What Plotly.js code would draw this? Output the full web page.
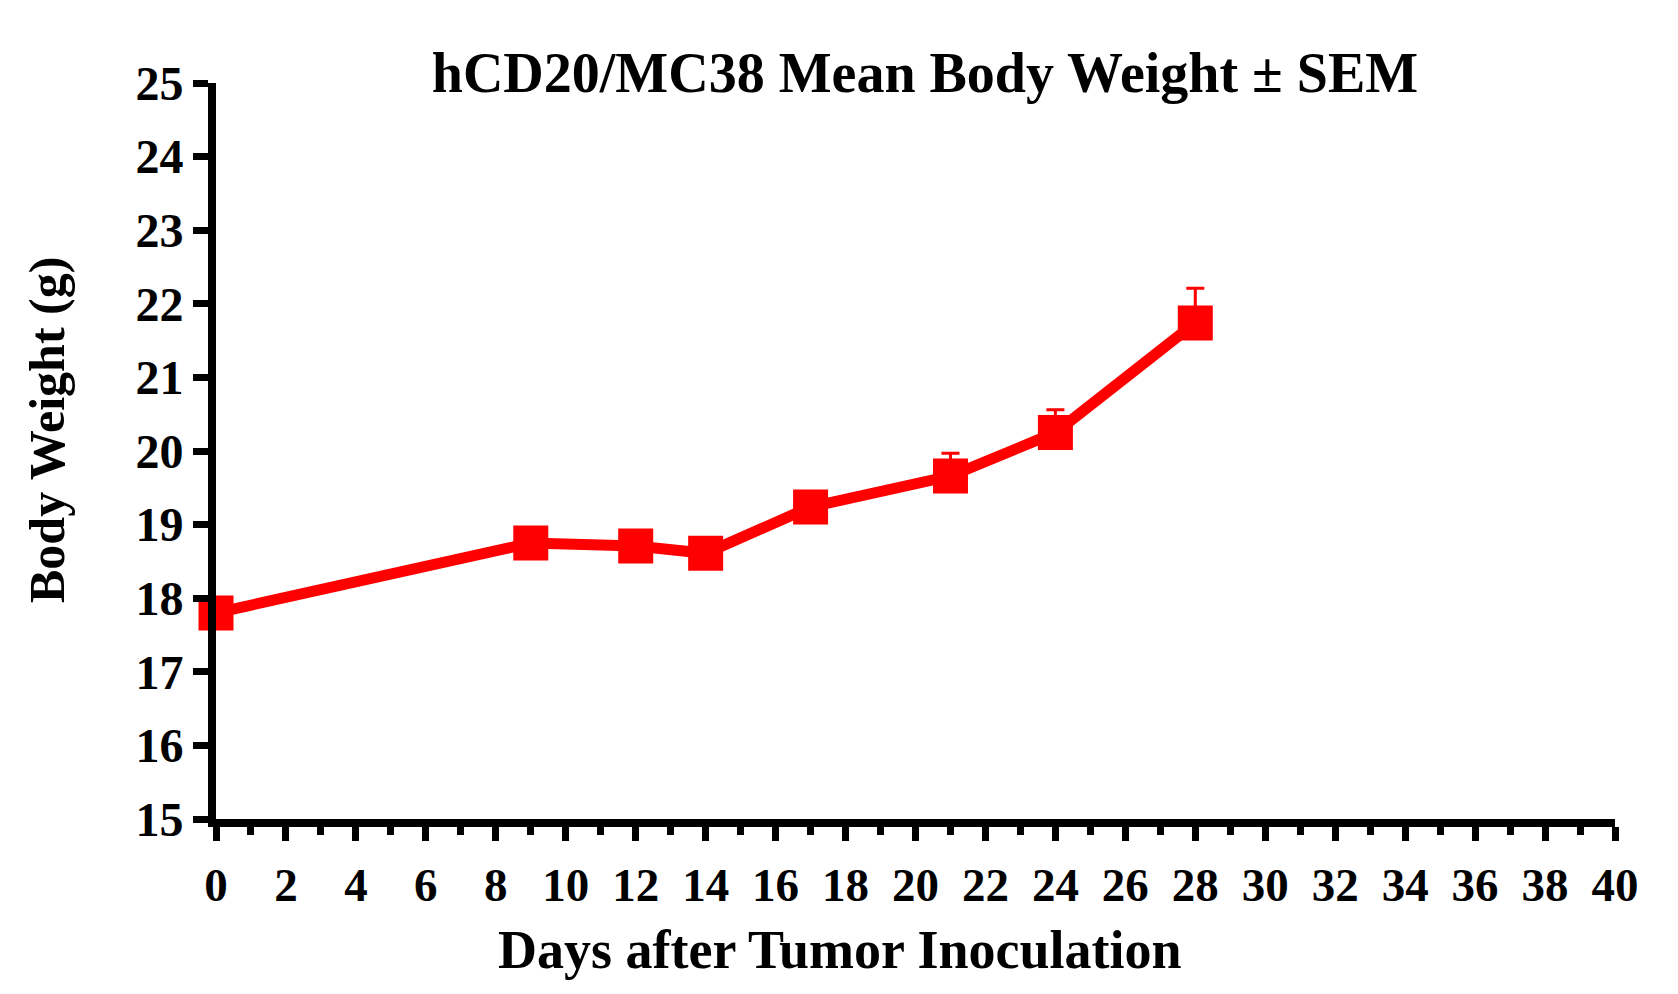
<!DOCTYPE html>
<html>
<head>
<meta charset="utf-8">
<script src="https://cdn.plot.ly/plotly-3.0.1.min.js"></script>
<style>
  html, body { margin: 0; padding: 0; background: #fff; }
  #chart { width: 1678px; height: 994px; }
</style>
</head>
<body>
<div id="chart"></div>
<script>
// mean body weight (g) by day after inoculation, upper SEM bar only
const days = [0, 9, 12, 14, 17, 21, 24, 28]
const weight = [17.8, 18.75, 18.71, 18.61, 19.24, 19.66, 20.25, 21.74]
const sem = [0.12, 0.15, 0.15, 0.15, 0.2, 0.31, 0.31, 0.47]

const xTicks = [0, 2, 4, 6, 8, 10, 12, 14, 16, 18, 20, 22, 24, 26, 28, 30, 32, 34, 36, 38, 40]
const yTicks = [15, 16, 17, 18, 19, 20, 21, 22, 23, 24, 25]

const font = 'Liberation Serif, Times New Roman, serif'
const red = '#ff0000'

const trace = {
  x: days,
  y: weight,
  type: 'scatter',
  mode: 'lines+markers',
  line: { color: red, width: 11 },
  marker: { symbol: 'square', size: 35, color: red },
  error_y: {
    type: 'data',
    symmetric: false,
    array: sem,
    arrayminus: sem.map(() => 0),
    color: red,
    thickness: 3,
    width: 9,
  },
  cliponaxis: false,
  hoverinfo: 'x+y',
}

const layout = {
  width: 1678,
  height: 994,
  paper_bgcolor: '#fff',
  plot_bgcolor: '#fff',
  showlegend: false,
  margin: { l: 216, r: 63, t: 83, b: 175 },
  font: { family: font, color: '#000' },
  title: {
    text: '<b>hCD20/MC38 Mean Body Weight ± SEM</b>',
    font: { family: font, size: 56, color: '#000' },
    xref: 'container',
    x: 925 / 1678,
    xanchor: 'center',
    yref: 'container',
    y: 1 - 72 / 994,
    yanchor: 'middle',
  },
  xaxis: {
    range: [0, 40],
    tickvals: xTicks,
    ticktext: xTicks.map(v => `<b>${v}</b>`),
    tickfont: { family: font, size: 47, color: '#000' },
    ticks: 'outside',
    ticklen: 14,
    tickwidth: 7,
    tickcolor: '#000',
    ticklabelstandoff: 4,
    minor: { dtick: 1, tick0: 1, ticks: 'outside', ticklen: 8, tickwidth: 7, tickcolor: '#000' },
    showline: true,
    linecolor: '#000',
    linewidth: 8,
    showgrid: false,
    zeroline: false,
    fixedrange: true,
  },
  yaxis: {
    range: [15, 25],
    tickvals: yTicks,
    ticktext: yTicks.map(v => `<b>${v}</b>`),
    tickfont: { family: font, size: 48, color: '#000' },
    ticks: 'outside',
    ticklen: 15,
    tickwidth: 7,
    tickcolor: '#000',
    showline: true,
    linecolor: '#000',
    linewidth: 8,
    showgrid: false,
    zeroline: false,
    fixedrange: true,
  },
  annotations: [
    {
      text: '<b>Days after Tumor Inoculation</b>',
      xref: 'paper',
      yref: 'paper',
      x: (840 - 216) / 1399,
      y: -(950 - 819) / 736,
      xanchor: 'center',
      yanchor: 'middle',
      showarrow: false,
      font: { family: font, size: 54, color: '#000' },
    },
    {
      text: '<b>Body Weight (g)</b>',
      xref: 'paper',
      yref: 'paper',
      x: (47 - 216) / 1399,
      y: (819 - 430) / 736,
      xanchor: 'center',
      yanchor: 'middle',
      textangle: -90,
      showarrow: false,
      font: { family: font, size: 50, color: '#000' },
    },
  ],
}

Plotly.newPlot('chart', [trace], layout, { displayModeBar: false, staticPlot: true })
</script>
</body>
</html>
